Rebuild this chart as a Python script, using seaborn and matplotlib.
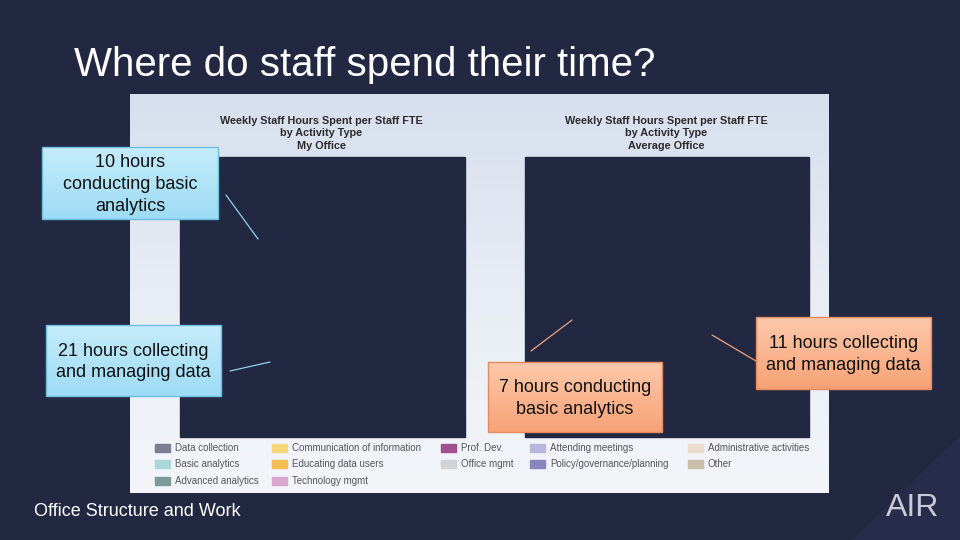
import numpy as np
import matplotlib.pyplot as plt
import seaborn as sns
from matplotlib.patches import Rectangle, Polygon
from matplotlib.colors import LinearSegmentedColormap

# Text and data
slide_title = 'Where do staff spend their time?'
footer = 'Office Structure and Work'
chart_titles = ['Weekly Staff Hours Spent per Staff FTE\nby Activity Type\nMy Office',
                'Weekly Staff Hours Spent per Staff FTE\nby Activity Type\nAverage Office']

callout_hours = [10, 21, 7, 11]
callout_texts = ['{} hours\nconducting basic\nanalytics',
                 '{} hours collecting\nand managing data',
                 '{} hours conducting\nbasic analytics',
                 '{} hours collecting\nand managing data']
callout_office = ['my', 'my', 'avg', 'avg']

legend_labels = ['Data collection', 'Basic analytics', 'Advanced analytics',
                 'Communication of information', 'Educating data users', 'Technology mgmt',
                 'Prof. Dev.', 'Office mgmt',
                 'Attending meetings', 'Policy/governance/planning',
                 'Administrative activities', 'Other']
legend_colors = ['#7e7d93', '#a8d6da', '#7d9a9a',
                 '#f8d77c', '#f4bd52', '#d8a6d0',
                 '#a04f90', '#d3d3d6',
                 '#b9b5df', '#8a85bd',
                 '#ecdccc', '#c9bca9']

sns.set_theme(style='white')
plt.rcParams['font.family'] = ['Liberation Sans', 'DejaVu Sans']

bg = '#232842'
fig = plt.figure(figsize=(9.6, 5.4), dpi=100)
fig.patch.set_facecolor(bg)
ax = fig.add_axes([0, 0, 1, 1])
ax.set_xlim(0, 960)
ax.set_ylim(540, 0)
ax.axis('off')
ax.set_facecolor(bg)

# faint lighter wedge bottom right
ax.add_patch(Polygon([[960, 436], [960, 540], [852, 540]], closed=True, color='#272c4a', zorder=0))

# picture panel with soft gradient
grad = LinearSegmentedColormap.from_list('panel', ['#d7dfee', '#e8edf5', '#f3f5f9'])
ax.imshow(np.linspace(0, 1, 100).reshape(-1, 1), cmap=grad, aspect='auto',
          extent=(130, 829, 493, 94), zorder=1)

# the two chart areas (rendered dark in the slide)
chart_boxes = [(180, 157, 285, 280), (525, 157, 284, 280)]
for (x, y, w, h), t in zip(chart_boxes, chart_titles):
    ax.add_patch(Rectangle((x, y), w, h, color=bg, zorder=2))
    ax.text(x + w / 2 - 1, 133.5, t, ha='center', va='center', fontsize=7.8,
            fontweight='bold', color='#2a2a2a', linespacing=1.3, zorder=3)

# legend at bottom of panel
col_x = [155, 272, 441, 530, 688]
legend_pos = [(0, 0), (0, 1), (0, 2), (1, 0), (1, 1), (1, 2),
              (2, 0), (2, 1), (3, 0), (3, 1), (4, 0), (4, 1)]
row_y = [448, 464, 481]
for lab, col, (c, r) in zip(legend_labels, legend_colors, legend_pos):
    ax.add_patch(Rectangle((col_x[c], row_y[r] - 4), 15, 7.5, color=col, zorder=3))
    ax.text(col_x[c] + 20, row_y[r], lab, fontsize=7.0, color='#55575e',
            va='center', ha='left', zorder=3)

# callout boxes
boxes = [(42, 147, 176, 72), (46, 325, 175, 71), (488, 362, 174, 70), (756, 317, 175, 72)]
leaders = [((226, 195), (258, 239)), ((230, 371), (270, 362)),
           ((531, 351), (572, 320)), ((712, 335), (756, 361))]
blue = LinearSegmentedColormap.from_list('blue', ['#c4ecfb', '#9edbf4'])
orange = LinearSegmentedColormap.from_list('orange', ['#fdc9ab', '#f8a276'])
for hrs, txt, off, (x, y, w, h), (p0, p1) in zip(callout_hours, callout_texts, callout_office,
                                                  boxes, leaders):
    cmap, edge, line = (blue, '#6bbfe3', '#8fd3f2') if off == 'my' else (orange, '#e58a5f', '#f0a27c')
    ax.imshow(np.linspace(0, 1, 50).reshape(-1, 1), cmap=cmap, aspect='auto',
              extent=(x, x + w, y + h, y), zorder=4)
    ax.add_patch(Rectangle((x, y), w, h, fill=False, edgecolor=edge, lw=1, zorder=5))
    ax.text(x + w / 2, y + h / 2 + 1.5, txt.format(hrs), ha='center', va='center',
            fontsize=13, color='#111111', linespacing=1.35, zorder=6)
    ax.plot([p0[0], p1[0]], [p0[1], p1[1]], color=line, lw=0.9, zorder=4)

ax.text(74, 65, slide_title, fontsize=29, color='white', ha='left', va='center', zorder=6)
ax.text(34, 512, footer, fontsize=13, color='white', ha='left', va='center', zorder=6)
ax.text(913, 508, 'AIR', fontsize=23, color='#c9ccd4', ha='center', va='center', zorder=6)

fig.savefig('out.png', dpi=100, facecolor=bg)
